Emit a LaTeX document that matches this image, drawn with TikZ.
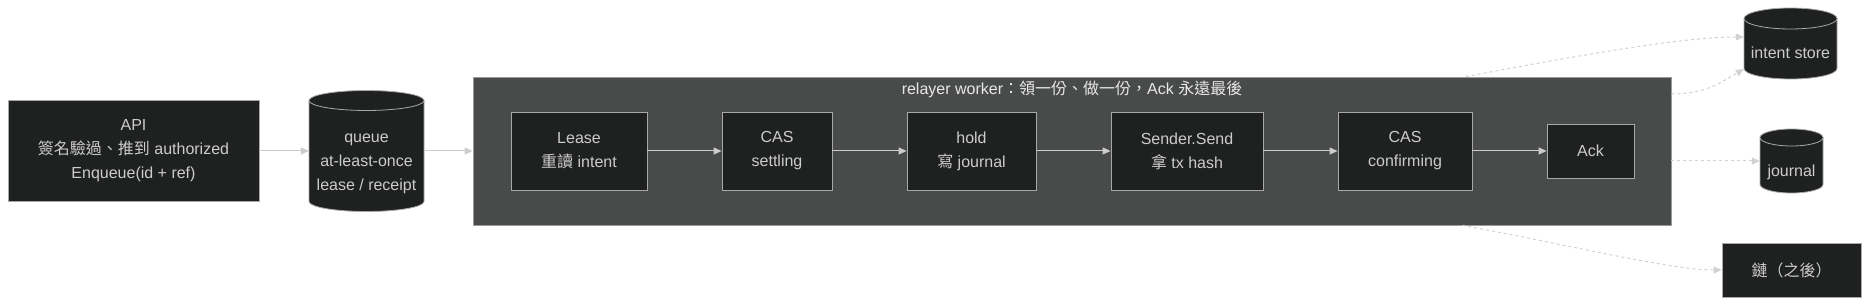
\documentclass[tikz,border=0pt]{standalone}
\usepackage{fontspec}
\setmainfont{Liberation Sans}
\newfontfamily\cjk{Noto Sans CJK TC}
\usetikzlibrary{arrows.meta}
\definecolor{nodefill}{HTML}{1F2020}
\definecolor{clusterfill}{HTML}{494A4A}
\definecolor{nodeline}{HTML}{A8A8A8}
\definecolor{clusterline}{HTML}{9A9A9A}
\definecolor{txt}{HTML}{CCCCCC}
\definecolor{titletxt}{HTML}{E8E8E8}
\definecolor{edgecol}{HTML}{CCCCCC}
\definecolor{dotcol}{HTML}{D2D2D2}
\newcommand\mycyl[8]{% #1 name, #2 cx, #3 cy, #4 w, #5 h, #6 ry, #7 text shift, #8 text
  \pgfmathsetmacro\cxl{#2-#4/2}\pgfmathsetmacro\cxr{#2+#4/2}%
  \pgfmathsetmacro\cyt{#3+#5/2-#6}\pgfmathsetmacro\cyb{#3-#5/2+#6}%
  \filldraw[cylsty] (\cxl,\cyt) -- (\cxl,\cyb)
     arc[start angle=180,end angle=360,x radius=#4/2,y radius=#6]
     -- (\cxr,\cyt)
     arc[start angle=0,end angle=180,x radius=#4/2,y radius=#6] -- cycle;
  \draw[cylsty] (\cxl,\cyt) arc[start angle=180,end angle=360,x radius=#4/2,y radius=#6];
  \node[shape=rectangle,inner sep=0pt,minimum width=#4pt,minimum height=#5pt] (#1) at (#2,#3) {};
  \node[cyltxt] (#1-t) at (#2,#3-#7) {#8};
}
\begin{document}
\begin{tikzpicture}[x=1pt,y=1pt,
  box/.style={draw=nodeline, fill=nodefill, text=txt, line width=0.8pt, inner sep=0pt,
    align=center, font=\fontsize{16}{24}\selectfont},
  cylsty/.style={draw=nodeline, fill=nodefill, line width=0.8pt},
  cyltxt/.style={text=txt, align=center, inner sep=0pt, font=\fontsize{16}{24}\selectfont},
  cluster/.style={draw=clusterline, fill=clusterfill, line width=0.8pt, inner sep=0pt},
  flow/.style={draw=edgecol, line width=1pt, -{Triangle[length=8pt,width=7pt]}},
  dotflow/.style={draw=dotcol, line width=1pt, dash pattern=on 3pt off 3pt, -{Triangle[length=8pt,width=7pt]}}
]
\useasboundingbox (0,0) rectangle (1870,305);
\fill[white] (0,0) rectangle (1870,305);

% cluster
\node[cluster, minimum width=1198pt, minimum height=148pt] (worker) at (1072,154) {};
\node[text=titletxt, inner sep=0pt, font=\fontsize{16}{24}\selectfont] (wtitle) at (1072,216)
  {relayer worker{\cjk ：領一份、做一份，}Ack {\cjk 永遠最後}};

% left nodes
\node[box, minimum width=251pt, minimum height=101pt] (api) at (133.5,154)
  {API\\{\cjk 簽名驗過、推到} authorized\\Enqueue(id + ref)};
\mycyl{queue}{366.5}{154}{115}{121}{10}{12.5}{queue\\at-least-once\\lease / receipt}

% worker steps
\node[box, minimum width=136pt, minimum height=78pt] (lease) at (579,154) {Lease\\{\cjk 重讀} intent};
\node[box, minimum width=110pt, minimum height=78pt] (settling) at (777,154) {CAS\\settling};
\node[box, minimum width=129pt, minimum height=78pt] (hold) at (971.5,154) {hold\\{\cjk 寫} journal};
\node[box, minimum width=152pt, minimum height=78pt] (send) at (1187,154) {Sender.Send\\{\cjk 拿} tx hash};
\node[box, minimum width=134pt, minimum height=78pt] (confirm) at (1405,154) {CAS\\confirming};
\node[box, minimum width=87pt, minimum height=54pt] (ack) at (1590.5,154) {Ack};

% right nodes
\mycyl{intent}{1790.5}{261.5}{93}{71}{10.5}{9.5}{intent store}
\mycyl{journal}{1791.5}{144}{63}{64}{8.5}{11}{journal}
\node[box, minimum width=139pt, minimum height=54pt] (chain) at (1791.5,35) {{\cjk 鏈（之後）}};

% edges
\draw[flow] (api.east) -- (queue.west);
\draw[flow] (queue.east) -- (worker.west);
\draw[flow] (lease.east) -- (settling.west);
\draw[flow] (settling.east) -- (hold.west);
\draw[flow] (hold.east) -- (send.west);
\draw[flow] (send.east) -- (confirm.west);
\draw[flow] (confirm.east) -- (ack.west);

\draw[dotflow] ([xshift=-1.5pt]worker.north -| confirm.east) ++(-5,0) coordinate (s1)
  (s1) .. controls (1570,248) and (1680,268) .. ([yshift=6.5pt]intent.west);
\draw[dotflow] ([yshift=57pt]worker.east) .. controls (1705,211) and (1720,222) .. ([yshift=-25.5pt]intent.west);
\draw[dotflow] ([yshift=-10pt]worker.east) -- (journal.west);
\draw[dotflow] ([xshift=-10pt]worker.south -| confirm.east) .. controls (1560,62) and (1670,35) .. (chain.west);
\end{tikzpicture}
\end{document}
